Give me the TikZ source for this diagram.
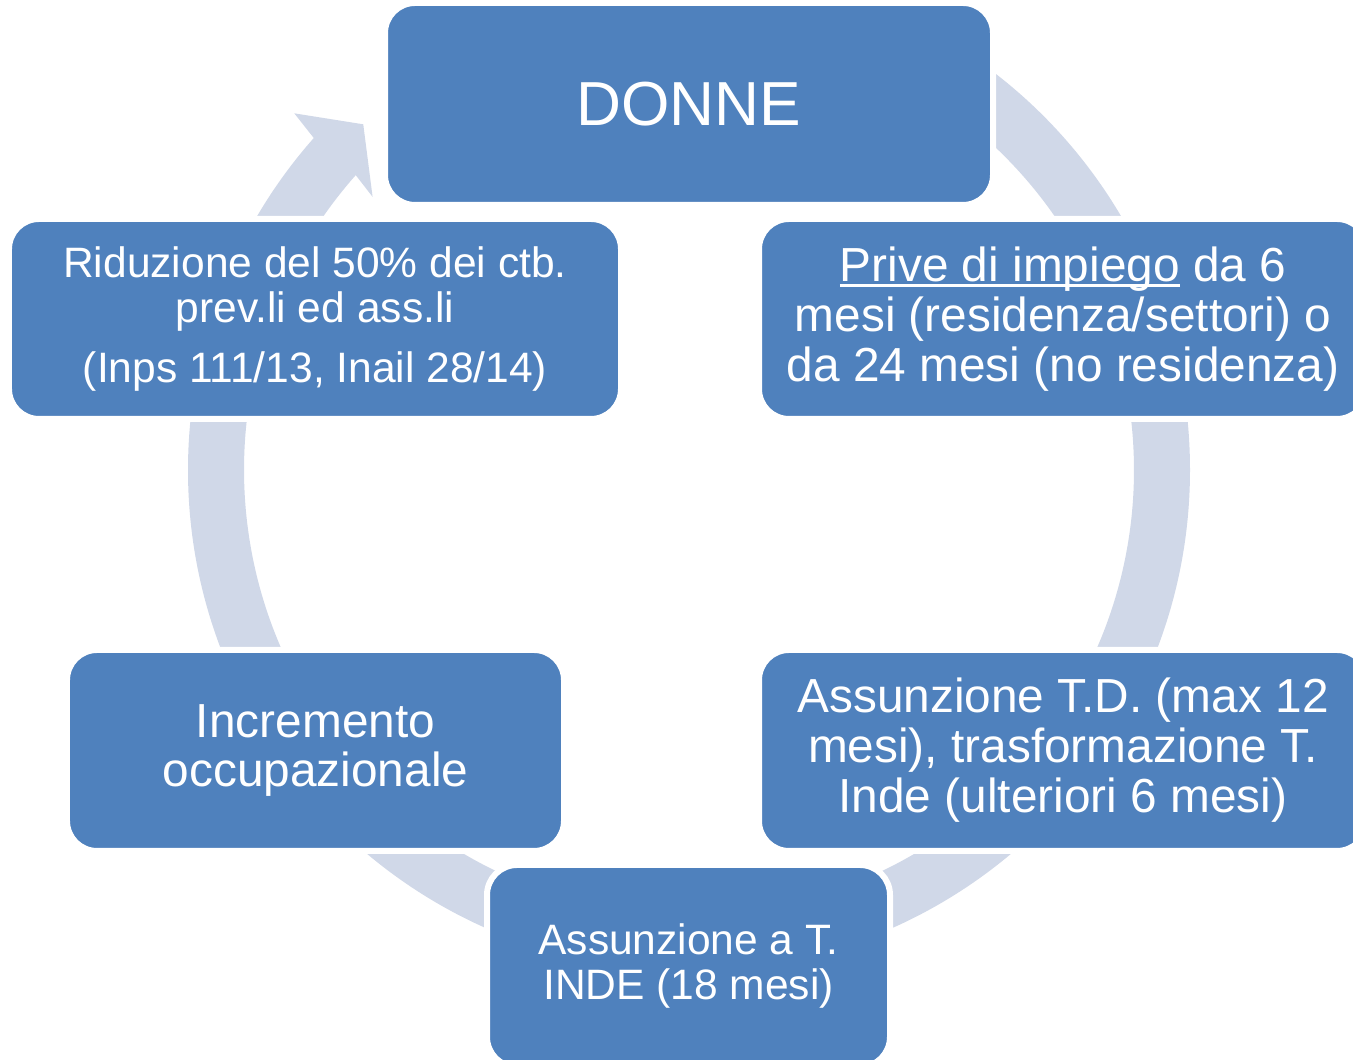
\documentclass[tikz,border=0pt]{standalone}
\usepackage{fontspec}
\setmainfont{Liberation Sans}
\usepackage{tikz}
\usetikzlibrary{calc}
\usetikzlibrary{positioning}

\definecolor{boxblue}{HTML}{4F81BD}
\definecolor{ringgray}{HTML}{D0D8E8}

\newcommand{\sottolinea}[1]{\sbox0{#1}\rlap{\rule[-0.11em]{\wd0}{0.065em}}\usebox0}

\begin{document}
\begin{tikzpicture}[
        box/.style={draw=white, line width=0.06cm, fill=boxblue, rounded corners=0.3cm,
            text=white, align=center, inner sep=0pt},
        bigtext/.style={font=\fontsize{13.6}{14.2}\selectfont},
        smalltext/.style={font=\fontsize{12.1}{12.8}\selectfont}
    ]
        % page
        \path[use as bounding box, fill=white] (0,0) rectangle (13.53,10.60);

        % Cycle arrow
        \begin{scope}[shift={(6.89,5.90)}]
            \fill[ringgray] (90:5.01) arc[start angle=90, end angle=-221.5, radius=5.01]
                -- (137.9:5.32) -- (133.3:4.75) -- (139.2:4.18)
                -- (138.5:4.45) arc[start angle=-221.5, end angle=90, radius=4.45] -- cycle;
        \end{scope}

        % Top box
        \node[box, minimum width=6.08cm, minimum height=2.02cm,
            font=\fontsize{17.7}{20}\selectfont] (donne) at (6.89,9.56) {DONNE};

        % Right boxes
        \node[box, bigtext, minimum width=6.08cm, minimum height=2.00cm] (prive) at (10.63,7.41)
            {\sottolinea{Prive di impiego} da 6\\ mesi (residenza/settori) o\\ da 24 mesi (no residenza)};
        \node[box, bigtext, minimum width=6.08cm, minimum height=2.01cm] (assTD) at (10.63,3.095)
            {Assunzione T.D. (max 12\\ mesi), trasformazione T.\\ Inde (ulteriori 6 mesi)};

        % Bottom box
        \node[box, smalltext, minimum width=4.03cm, minimum height=2.02cm] (assTI) at (6.885,0.94)
            {Assunzione a T.\\ INDE (18 mesi)};

        % Left boxes
        \node[box, bigtext, minimum width=4.97cm, minimum height=2.01cm] (incr) at (3.155,3.095)
            {Incremento\\ occupazionale};
        \node[box, smalltext, minimum width=6.12cm, minimum height=2.00cm] (riduz) at (3.15,7.41)
            {Riduzione del 50\% dei ctb.\\ prev.li ed ass.li\\[4.3pt] (Inps 111/13, Inail 28/14)};

    \end{tikzpicture}
\end{document}
